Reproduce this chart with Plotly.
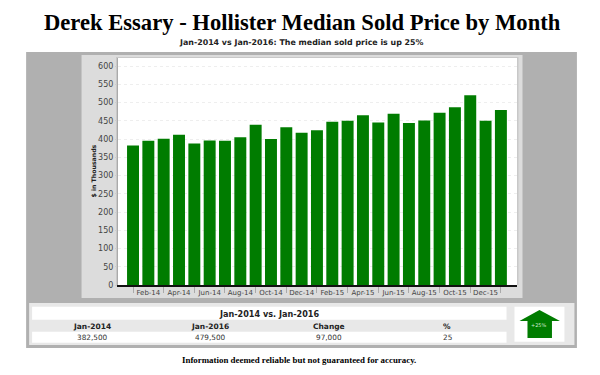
import plotly.graph_objects as go

months = ["Jan-14","Feb-14","Mar-14","Apr-14","May-14","Jun-14","Jul-14","Aug-14","Sep-14","Oct-14","Nov-14","Dec-14",
          "Jan-15","Feb-15","Mar-15","Apr-15","May-15","Jun-15","Jul-15","Aug-15","Sep-15","Oct-15","Nov-15","Dec-15","Jan-16"]
prices = [382.5,395,401,412,388,396,395,405,439,400,432,417,424,447,450,465,445,469,444,451,472,487,520,450,479.5]
y_ticks = list(range(0, 601, 50))
table_title = "Jan-2014 vs. Jan-2016"
table_head = ["Jan-2014", "Jan-2016", "Change", "%"]
table_vals = ["382,500", "479,500", "97,000", "25"]

W, H = 600, 375
L, R, T, B = 118, 517.5, 58, 285
SANS = "DejaVu Sans"
SERIF = "Liberation Serif"

def px(x): return (x - L) / (R - L)
def py(y): return (B - y) / (B - T)

def rect(x0, y0, x1, y1, color):
    return dict(type="rect", xref="paper", yref="paper", layer="below",
                x0=px(x0), x1=px(x1), y0=py(y0), y1=py(y1),
                fillcolor=color, line=dict(width=0))

def label(x, y, text, size, color="#222", family=SANS, bold=False, angle=0):
    return dict(xref="paper", yref="paper", x=px(x), y=py(y), text=f"<b>{text}</b>" if bold else text,
                showarrow=False, xanchor="center", yanchor="middle", textangle=angle,
                font=dict(family=family, size=size, color=color))

idx = list(range(len(months)))
fig = go.Figure(go.Bar(x=idx, y=prices, width=0.78, marker=dict(color="#007c00", line=dict(width=0))))

arrow_pts = [(540,310),(560.5,321),(552.5,321),(552.5,338),(528,338),(528,321),(520,321)]
arrow_path = "M " + " L ".join(f"{px(a):.5f} {py(b):.5f}" for a, b in arrow_pts) + " Z"

shapes = [
    rect(26, 52, 577.5, 348, "#b0b0b0"),
    rect(81.5, 55, 523, 298, "#dcdcdc"),
    rect(116, 57, 519, 285, "#c8c8c8"),
    rect(118, 58, 517.5, 285, "#ffffff"),
    rect(29, 303, 575, 345, "#e8e8e8"),
    rect(32, 306.7, 507, 319.7, "#ffffff"),
    rect(32, 331.7, 507, 342.7, "#ffffff"),
    rect(515, 306.7, 565, 341.7, "#ffffff"),
    dict(type="path", xref="paper", yref="paper", path=arrow_path, fillcolor="#007c00", line=dict(width=0)),
]

cols = [92, 210.5, 329, 447.7]
ann = [
    label(302.5, 22, "Derek Essary - Hollister Median Sold Price by Month", 22.6, "#000", SERIF, True),
    label(302, 43, "Jan-2014 vs Jan-2016: The median sold price is up 25%", 7.9, "#222", SANS, True),
    label(92.5, 171, "$ in Thousands", 6.2, "#222", SANS, True, -90),
    label(269.5, 313.5, table_title, 8.1, "#222", SANS, True),
    label(540, 324.5, "+25%", 5, "#cfe8cf", SANS),
    label(299.5, 360, "Information deemed reliable but not guaranteed for accuracy.", 8.9, "#000", SERIF, True),
]
for cx, h, v in zip(cols, table_head, table_vals):
    ann.append(label(cx, 326, h, 7.5, "#222", SANS, True))
    ann.append(label(cx, 337.5, v, 7.3, "#333", SANS))

fig.update_layout(
    width=W, height=H, autosize=False,
    margin=dict(l=L, r=W - R, t=T, b=H - B, pad=0),
    paper_bgcolor="#ffffff", plot_bgcolor="rgba(0,0,0,0)",
    showlegend=False, shapes=shapes, annotations=ann,
    xaxis=dict(range=[-0.98, 25.05], tickmode="array", tickvals=idx[1::2], ticktext=months[1::2],
               ticks="", tickfont=dict(family=SANS, size=7, color="#444"), showgrid=False, zeroline=False,
               showline=True, linecolor="#111", linewidth=2,
               minor=dict(tick0=0, dtick=2, ticks="outside", ticklen=6, tickcolor="#aaa", tickwidth=1, showgrid=False)),
    yaxis=dict(range=[0, 622], tickmode="array", tickvals=y_ticks, ticks="outside", ticklen=2, tickcolor="#ccc",
               tickfont=dict(family=SANS, size=8, color="#444"), showgrid=True, gridcolor="#eeeeee",
               griddash="dot", gridwidth=1, zeroline=False, showline=True, linecolor="#aaa", linewidth=1),
)
fig.write_html("out.html", config=dict(displayModeBar=False),
               post_script="document.body.style.margin='0';document.documentElement.style.overflow='hidden';")
